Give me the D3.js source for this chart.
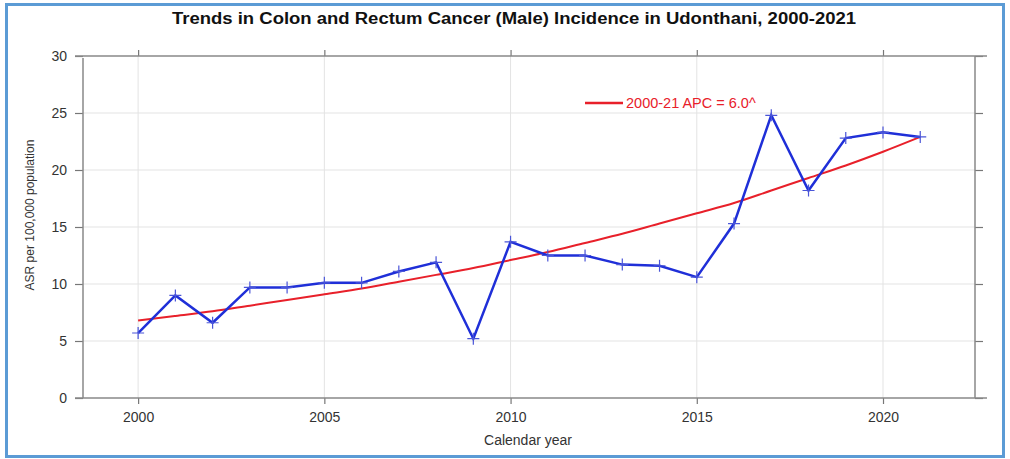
<!DOCTYPE html>
<html>
<head>
<meta charset="utf-8">
<script src="https://cdn.jsdelivr.net/npm/d3@7"></script>
<style>
body { margin: 0; background: #fff; }
text { font-family: "Liberation Sans", Arial, sans-serif; }
</style>
</head>
<body>
<script>
// Data
var years = [2000, 2001, 2002, 2003, 2004, 2005, 2006, 2007, 2008, 2009, 2010,
	2011, 2012, 2013, 2014, 2015, 2016, 2017, 2018, 2019, 2020, 2021];
var observed = [5.7, 9.0, 6.6, 9.7, 9.7, 10.1, 10.1, 11.1, 11.9, 5.2, 13.7,
	12.5, 12.5, 11.7, 11.6, 10.6, 15.3, 24.8, 18.2, 22.8, 23.3, 22.9];
var fitted = [6.8, 7.2, 7.6, 8.1, 8.6, 9.1, 9.6, 10.2, 10.8, 11.4, 12.1,
	12.8, 13.6, 14.4, 15.3, 16.2, 17.1, 18.2, 19.3, 20.4, 21.6, 22.9];
var xTicks = [2000, 2005, 2010, 2015, 2020];
var yTicks = [0, 5, 10, 15, 20, 25, 30];
var legendLabel = "2000-21 APC = 6.0^";

var w = 1010;
var h = 459;

var svg = d3.select("body").
append("svg").
attr("width", w).
attr("height", h);

// Outer blue frame
svg.append("rect").
attr("x", 6.5).
attr("y", 4.5).
attr("width", 997).
attr("height", 452).
attr("fill", "none").
attr("stroke", "#5b9bd5").
attr("stroke-width", 3);

// Scales
var xScale = d3.scaleLinear().
domain([1998.52, 2022.47]).
range([83, 975]);

var yScale = d3.scaleLinear().
domain([0, 30]).
range([398, 56]);

// Grid lines
svg.append("g").
selectAll("line").
data(xTicks).
enter().
append("line").
attr("x1", function (d) {return xScale(d);}).
attr("x2", function (d) {return xScale(d);}).
attr("y1", yScale(30)).
attr("y2", yScale(0)).
attr("stroke", "#e3e3e3").
attr("stroke-width", 1);

svg.append("g").
selectAll("line").
data(yTicks.slice(1, -1)).
enter().
append("line").
attr("x1", 83).
attr("x2", 975).
attr("y1", function (d) {return yScale(d);}).
attr("y2", function (d) {return yScale(d);}).
attr("stroke", "#e3e3e3").
attr("stroke-width", 1);

// Axes
var xAxis = d3.axisBottom(xScale).tickValues(xTicks).tickSize(6).tickFormat(d3.format("d"));
var xAxisTop = d3.axisTop(xScale).tickValues(xTicks).tickSize(6).tickFormat("");
var yAxis = d3.axisLeft(yScale).tickValues(yTicks).tickSize(8);
var yAxisRight = d3.axisRight(yScale).tickValues(yTicks).tickSize(8).tickFormat("");

function styleAxis(g) {
	g.select(".domain").remove();
	g.selectAll(".tick line").attr("stroke", "#777").attr("stroke-width", 1.2);
	g.selectAll(".tick text").attr("fill", "#333").style("font-size", "14px").
	style("font-family", "'Liberation Sans', Arial, sans-serif");
}

svg.append("g").
attr("transform", "translate(0," + yScale(0) + ")").
call(xAxis).
call(styleAxis).
selectAll(".tick text").attr("dy", "1.05em");

svg.append("g").
attr("transform", "translate(0," + yScale(30) + ")").
call(xAxisTop).
call(styleAxis);

svg.append("g").
attr("transform", "translate(83,0)").
call(yAxis).
call(styleAxis).
selectAll(".tick text").attr("x", -16);

svg.append("g").
attr("transform", "translate(975,0)").
call(yAxisRight).
call(styleAxis);

// Frame lines (horizontal ones run a little past the verticals)
var frame = svg.append("g").attr("stroke", "#888").attr("stroke-width", 1.5);
frame.append("line").attr("x1", 75).attr("x2", 987).attr("y1", yScale(0)).attr("y2", yScale(0));
frame.append("line").attr("x1", 75).attr("x2", 987).attr("y1", yScale(30)).attr("y2", yScale(30));
frame.append("line").attr("x1", 83).attr("x2", 83).attr("y1", yScale(30) + 2).attr("y2", yScale(0));
frame.append("line").attr("x1", 975).attr("x2", 975).attr("y1", yScale(30)).attr("y2", yScale(0));

// Fitted line
var line = d3.line().
x(function (d) {return xScale(d[0]);}).
y(function (d) {return yScale(d[1]);});

var fitCurve = d3.line().
curve(d3.curveMonotoneX).
x(function (d) {return xScale(d[0]);}).
y(function (d) {return yScale(d[1]);});

svg.append("path").
datum(years.map(function (y, i) {return [y, fitted[i]];})).
attr("d", fitCurve).
attr("fill", "none").
attr("stroke", "#e8202a").
attr("stroke-width", 2);

// Observed line
var obs = years.map(function (y, i) {return [y, observed[i]];});

svg.append("path").
datum(obs).
attr("d", line).
attr("fill", "none").
attr("stroke", "#1f2fd8").
attr("stroke-width", 2.5);

// Plus markers
svg.append("g").
selectAll("path").
data(obs).
enter().
append("path").
attr("d", function (d) {
	var cx = xScale(d[0]), cy = yScale(d[1]);
	return "M" + (cx - 6) + "," + cy + "H" + (cx + 6) + "M" + cx + "," + (cy - 6) + "V" + (cy + 6);
}).
attr("stroke", "#4a55d8").
attr("stroke-width", 1.2);

// Legend
svg.append("line").
attr("x1", 585).
attr("x2", 623).
attr("y1", 103).
attr("y2", 103).
attr("stroke", "#e8202a").
attr("stroke-width", 2.5);

svg.append("text").
attr("x", 626).
attr("y", 108).
attr("fill", "#e8202a").
style("font-size", "14.5px").
text(legendLabel);

// Title
svg.append("text").
attr("x", 514).
attr("y", 24).
attr("text-anchor", "middle").
attr("textLength", 684).
attr("lengthAdjust", "spacingAndGlyphs").
style("font-size", "16px").
style("font-weight", "bold").
attr("fill", "#111").
text("Trends in Colon and Rectum Cancer (Male) Incidence in Udonthani, 2000-2021");

// Axis titles
svg.append("text").
attr("x", 528).
attr("y", 445).
attr("text-anchor", "middle").
attr("fill", "#333").
style("font-size", "14px").
text("Calendar year");

svg.append("text").
attr("transform", "translate(34,215) rotate(-90)").
attr("text-anchor", "middle").
attr("fill", "#333").
style("font-size", "12px").
text("ASR per 100,000 population");
</script>
</body>
</html>
